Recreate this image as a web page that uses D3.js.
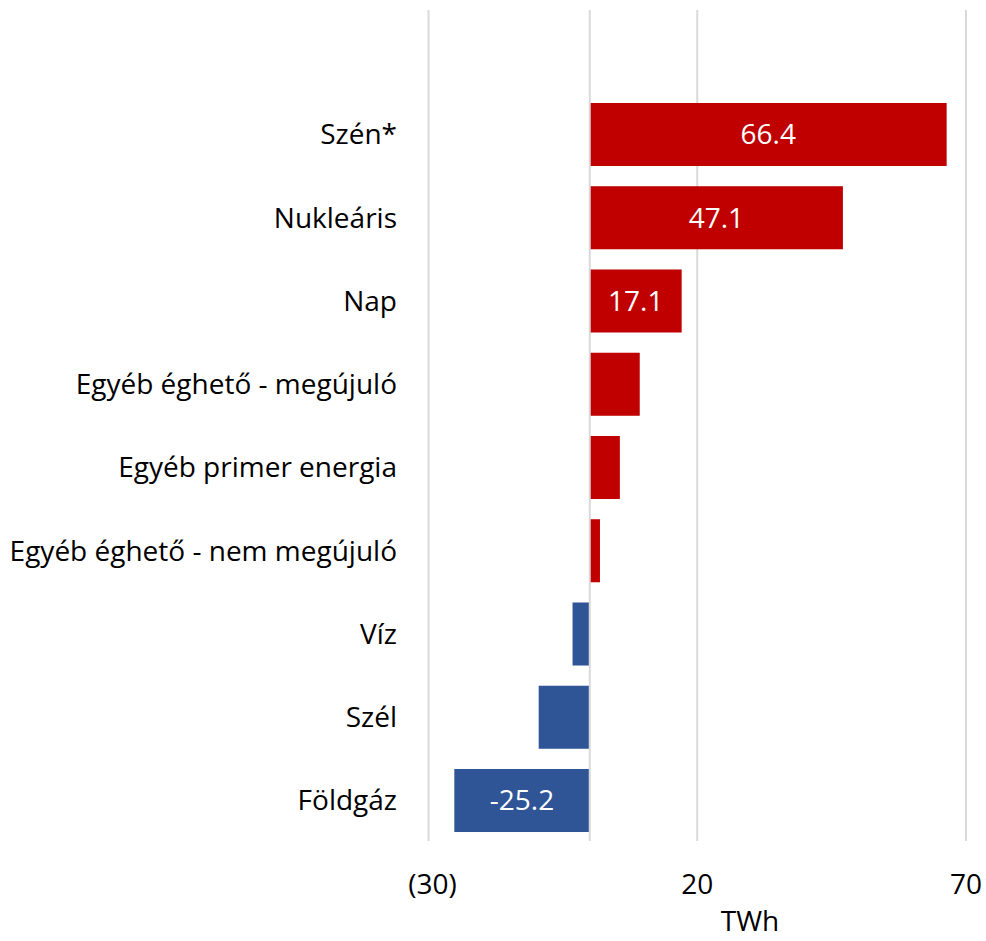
<!DOCTYPE html>
<html>
<head>
<meta charset="utf-8">
<script src="https://cdn.jsdelivr.net/npm/d3@7/dist/d3.min.js"></script>
<style>
  html, body { margin: 0; padding: 0; background: #fff; }
  svg { display: block; }
  text { font-family: "Open Sans", "Noto Sans", sans-serif; }
</style>
</head>
<body>
<svg id="chart" width="986" height="941"></svg>
<script>
const categories = ["Szén*", "Nukleáris", "Nap", "Egyéb éghető - megújuló", "Egyéb primer energia", "Egyéb éghető - nem megújuló", "Víz", "Szél", "Földgáz"];
const values = [66.4, 47.1, 17.1, 9.3, 5.6, 1.9, -3.2, -9.5, -25.2];
const shownLabels = [true, true, true, false, false, false, false, false, true];
const tickValues = [-30, 20, 70];
const tickLabels = ["(30)", "20", "70"];
const axisTitle = "TWh";

const FS = 28;
const svg = d3.select("#chart");
const x = d3.scaleLinear().domain([-30, 70]).range([428.5, 966]);
const y = d3.scaleBand().domain(categories).range([93, 842]).paddingInner(0.243).paddingOuter(0.12);

// gridlines
svg.append("g").selectAll("line").data(tickValues).join("line")
  .attr("x1", d => x(d)).attr("x2", d => x(d))
  .attr("y1", 10).attr("y2", 841)
  .attr("stroke", "#d9d9d9").attr("stroke-width", 2);

// bars
svg.append("g").selectAll("rect").data(values).join("rect")
  .attr("x", d => x(Math.min(0, d)))
  .attr("width", d => Math.abs(x(d) - x(0)))
  .attr("y", (d, i) => y(categories[i]))
  .attr("height", y.bandwidth())
  .attr("fill", d => d >= 0 ? "#c00000" : "#2f5597");

// zero line
svg.append("line")
  .attr("x1", x(0)).attr("x2", x(0)).attr("y1", 10).attr("y2", 841)
  .attr("stroke", "#d9d9d9").attr("stroke-width", 2);

// value labels
svg.append("g").selectAll("text").data(values.map((v, i) => ({v, i})).filter(d => shownLabels[d.i])).join("text")
  .attr("x", d => (x(d.v) + x(0)) / 2)
  .attr("y", d => y(categories[d.i]) + y.bandwidth() / 2)
  .attr("dy", "0.35em")
  .attr("text-anchor", "middle")
  .attr("fill", "#fff")
  .attr("font-size", FS)
  .text(d => d.v.toFixed(1));

// category labels
svg.append("g").selectAll("text").data(categories).join("text")
  .attr("x", 397)
  .attr("y", d => y(d) + y.bandwidth() / 2)
  .attr("dy", "0.35em")
  .attr("text-anchor", "end")
  .attr("fill", "#000")
  .attr("font-size", FS)
  .text(d => d);

// tick labels
svg.append("g").selectAll("text").data(tickValues).join("text")
  .attr("x", d => x(d) + (d < 0 ? 4 : 0))
  .attr("y", 884)
  .attr("dy", "0.35em")
  .attr("text-anchor", "middle")
  .attr("fill", "#000")
  .attr("font-size", FS)
  .text((d, i) => tickLabels[i]);

svg.append("text")
  .attr("x", 750).attr("y", 921).attr("dy", "0.35em")
  .attr("text-anchor", "middle").attr("fill", "#000").attr("font-size", FS)
  .text(axisTitle);
</script>
</body>
</html>
